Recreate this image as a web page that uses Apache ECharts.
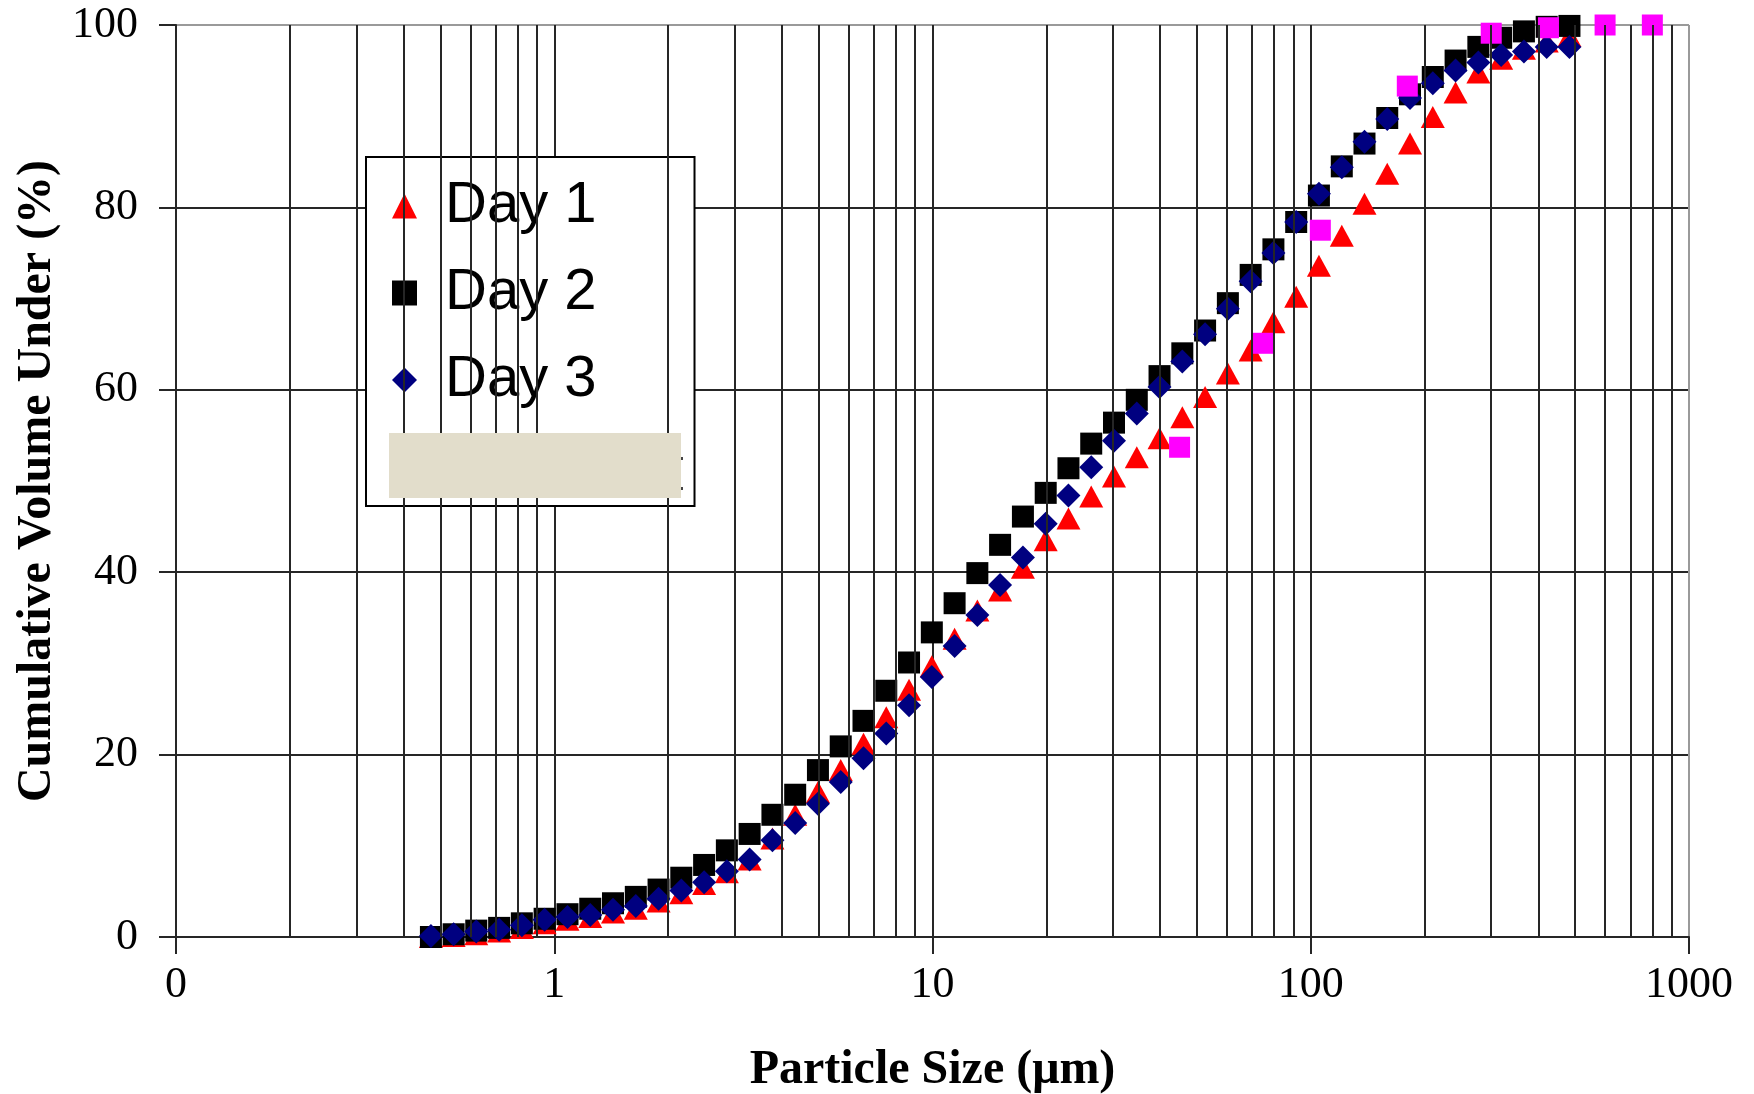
<!DOCTYPE html>
<html>
<head>
<meta charset="utf-8">
<title>Cumulative volume under</title>
<script src="https://cdn.jsdelivr.net/npm/echarts@6/dist/echarts.min.js"></script>
<style>
  html, body { margin: 0; padding: 0; background: #fff; }
  #main { width: 1754px; height: 1094px; }
</style>
</head>
<body>
<div id="main"></div>
<script>
// particle size classes (um)
var sizes = [0.472, 0.542, 0.622, 0.715, 0.821, 0.943, 1.084, 1.245, 1.430, 1.643,
  1.887, 2.167, 2.490, 2.860, 3.285, 3.774, 4.335, 4.979, 5.720, 6.570,
  7.547, 8.669, 9.959, 11.44, 13.14, 15.09, 17.34, 19.92, 22.88, 26.28,
  30.19, 34.68, 39.83, 45.76, 52.56, 60.38, 69.36, 79.67, 91.52, 105.1,
  120.8, 138.7, 159.3, 183.0, 210.2, 241.5, 277.4, 318.7, 366.1, 420.5, 483.0];

var day1 = [0.0, 0.1, 0.3, 0.6, 1.0, 1.5, 1.9, 2.2, 2.7, 3.1,
  3.9, 4.8, 5.8, 7.1, 8.5, 10.8, 13.4, 15.9, 18.3, 21.2,
  24.1, 27.1, 29.7, 32.7, 35.8, 38.0, 40.5, 43.5, 45.9, 48.3,
  50.5, 52.6, 54.7, 57.0, 59.2, 61.8, 64.3, 67.4, 70.2, 73.6,
  76.9, 80.4, 83.7, 87.0, 89.9, 92.6, 94.8, 96.3, 97.4, 98.2, 98.8];

var day2 = [0.0, 0.3, 0.7, 1.0, 1.5, 2.0, 2.5, 3.1, 3.7, 4.4,
  5.2, 6.5, 7.9, 9.5, 11.3, 13.4, 15.6, 18.3, 20.9, 23.7,
  27.0, 30.1, 33.4, 36.6, 39.9, 43.0, 46.1, 48.7, 51.4, 54.1,
  56.4, 58.9, 61.5, 64.0, 66.5, 69.5, 72.6, 75.4, 78.4, 81.3,
  84.5, 87.0, 89.8, 92.4, 94.3, 96.1, 97.6, 98.6, 99.3, 99.8, 99.9];

var day3 = [0.1, 0.3, 0.6, 0.8, 1.3, 1.9, 2.2, 2.4, 3.0, 3.4,
  4.2, 5.1, 6.0, 7.2, 8.5, 10.6, 12.5, 14.6, 17.0, 19.6,
  22.3, 25.4, 28.5, 31.9, 35.3, 38.6, 41.6, 45.3, 48.4, 51.5,
  54.4, 57.4, 60.3, 63.1, 66.1, 68.9, 71.9, 75.0, 78.4, 81.5,
  84.4, 87.2, 89.7, 92.0, 93.6, 95.0, 95.9, 96.7, 97.1, 97.6, 97.6];

// fourth series (its legend entry is covered in the original)
var sieveSizes = [45, 75, 106, 180, 300, 425, 600, 800];
var sieveValues = [53.7, 65.1, 77.5, 93.3, 99.1, 99.7, 100, 100];

var xTickLabels = ['0', '1', '10', '100', '1000'];
var minorGrid = [0.2, 0.3, 0.4, 0.5, 0.6, 0.7, 0.8, 0.9,
  2, 3, 4, 5, 6, 7, 8, 9,
  20, 30, 40, 50, 60, 70, 80, 90,
  200, 300, 400, 500, 600, 700, 800, 900];

function pairs(xs, ys) {
  var out = [];
  for (var i = 0; i < xs.length; i++) {
    out.push([xs[i], ys[i]]);
  }
  return out;
}

var gridLine = '#262626';
var serif = '"Liberation Serif", "Times New Roman", serif';

var chart = echarts.init(document.getElementById('main'));

var option = {
  backgroundColor: '#fff',
  animation: false,
  grid: {
    left: 176,
    right: 65,
    top: 25,
    bottom: 157,
    containLabel: false,
    outerBoundsMode: 'none'
  },
  legend: {
    data: ['Day 1', 'Day 2', 'Day 3'],
    orient: 'vertical',
    left: 366,
    top: 157,
    padding: [20, 98, 97, 26],
    itemWidth: 25,
    itemHeight: 25,
    itemGap: 29,
    symbolKeepAspect: true,
    backgroundColor: '#fff',
    borderColor: '#000',
    borderWidth: 2,
    borderRadius: 0,
    itemStyle: { opacity: 1 },
    textStyle: {
      fontFamily: '"Liberation Sans", Arial, sans-serif',
      fontSize: 58,
      lineHeight: 58,
      color: '#000',
      padding: [0, 0, 0, 23]
    }
  },
  xAxis: {
    type: 'log',
    logBase: 10,
    min: 0.1,
    max: 1000,
    name: 'Particle Size (\u03bcm)',
    nameLocation: 'middle',
    nameGap: 110,
    nameTextStyle: {
      fontFamily: serif,
      fontWeight: 'bold',
      fontSize: 48,
      color: '#000'
    },
    axisLine: { onZero: false, lineStyle: { color: gridLine, width: 2 } },
    axisTick: { show: true, inside: false, length: 17, lineStyle: { color: gridLine, width: 2 } },
    axisLabel: {
      margin: 26,
      fontFamily: serif,
      fontSize: 44,
      color: '#000',
      formatter: function(value, index) {
        return xTickLabels[index];
      }
    },
    splitLine: {
      show: true,
      lineStyle: { color: [gridLine, gridLine, gridLine, gridLine, '#9a9a9a'], width: 2 }
    }
  },
  yAxis: {
    type: 'value',
    min: 0,
    max: 100,
    interval: 20,
    name: 'Cumulative Volume Under (%)',
    nameLocation: 'middle',
    nameGap: 110,
    nameTextStyle: {
      fontFamily: serif,
      fontWeight: 'bold',
      fontSize: 48,
      color: '#000'
    },
    axisLine: { show: true, lineStyle: { color: gridLine, width: 2 } },
    axisTick: { show: true, inside: false, length: 17, lineStyle: { color: gridLine, width: 2 } },
    axisLabel: {
      margin: 38,
      fontFamily: serif,
      fontSize: 44,
      color: '#000'
    },
    splitLine: {
      show: true,
      lineStyle: { color: [gridLine, gridLine, gridLine, gridLine, gridLine, '#9a9a9a'], width: 2 }
    }
  },
  series: [
    {
      // minor vertical gridlines, like the Excel log axis
      name: 'grid',
      type: 'scatter',
      data: [],
      z: 1,
      silent: true,
      markLine: {
        silent: true,
        symbol: ['none', 'none'],
        label: { show: false },
        lineStyle: { color: gridLine, width: 2, type: 'solid' },
        animation: false,
        data: minorGrid.map(function(v) { return { xAxis: v }; })
      }
    },
    {
      name: 'Day 1',
      type: 'scatter',
      symbol: 'triangle',
      symbolSize: [24, 22],
      itemStyle: { color: '#ff0000', opacity: 1 },
      z: 3,
      data: pairs(sizes, day1)
    },
    {
      name: 'Day 2',
      type: 'scatter',
      symbol: 'rect',
      symbolSize: 22,
      itemStyle: { color: '#000000', opacity: 1 },
      z: 3,
      data: pairs(sizes, day2)
    },
    {
      name: 'Day 3',
      type: 'scatter',
      symbol: 'diamond',
      symbolSize: [24, 24],
      itemStyle: { color: '#000080', opacity: 1 },
      z: 3,
      data: pairs(sizes, day3)
    },
    {
      name: 'Sieve',
      type: 'scatter',
      symbol: 'rect',
      symbolSize: [21, 21],
      itemStyle: { color: '#ff00ff', opacity: 1 },
      z: 3,
      data: pairs(sieveSizes, sieveValues)
    }
  ],
  graphic: [
    {
      // patch that hides the fourth legend entry
      type: 'rect',
      z: 100,
      shape: { x: 389, y: 433, width: 292, height: 65 },
      style: { fill: '#e2ddcb' }
    },
    {
      type: 'rect',
      z: 100,
      shape: { x: 681, y: 457, width: 2, height: 3 },
      style: { fill: '#444' }
    },
    {
      type: 'rect',
      z: 100,
      shape: { x: 681, y: 487, width: 2, height: 3 },
      style: { fill: '#444' }
    }
  ]
};

chart.setOption(option);
</script>
</body>
</html>
